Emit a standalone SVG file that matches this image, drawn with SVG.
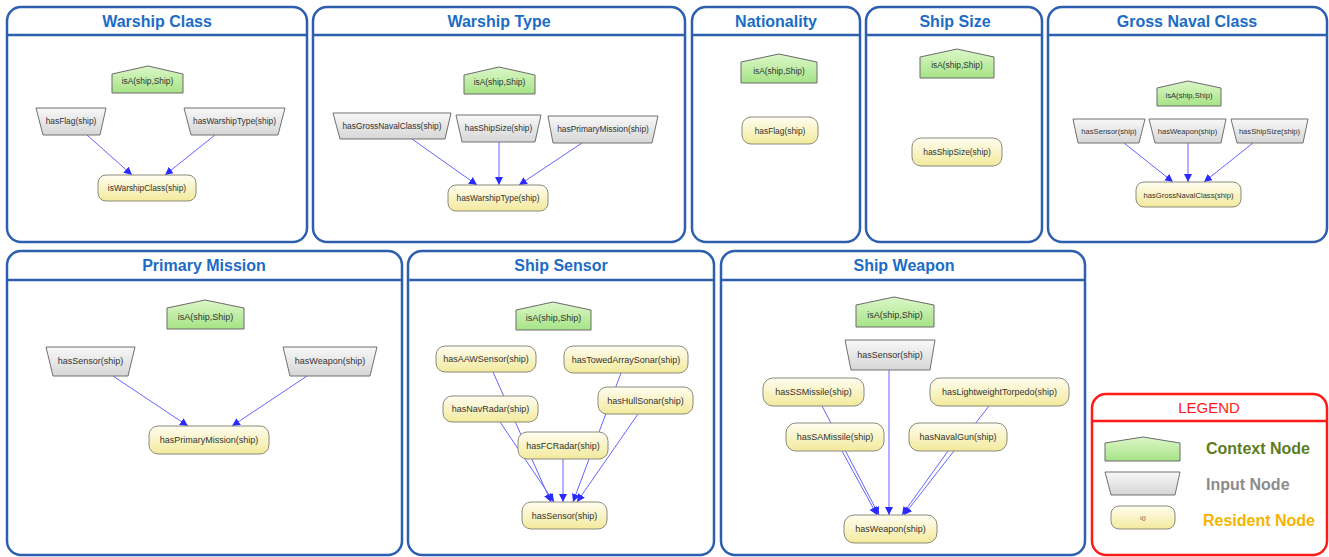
<svg xmlns="http://www.w3.org/2000/svg" width="1329" height="557" viewBox="0 0 1329 557">
<defs>
<linearGradient id="gCtx" x1="0" y1="0" x2="0" y2="1"><stop offset="0" stop-color="#dcf7c8"/><stop offset="1" stop-color="#a6e386"/></linearGradient>
<linearGradient id="gIn" x1="0" y1="0" x2="0" y2="1"><stop offset="0" stop-color="#f8f8f8"/><stop offset="1" stop-color="#d6d6d6"/></linearGradient>
<linearGradient id="gRes" x1="0" y1="0" x2="0" y2="1"><stop offset="0" stop-color="#fffdf0"/><stop offset="1" stop-color="#f3ea9c"/></linearGradient>
<marker id="arr" markerUnits="userSpaceOnUse" markerWidth="9" markerHeight="9" refX="8" refY="4" orient="auto"><path d="M0,0 L8,4 L0,8 z" fill="#2a2aff"/></marker>
<style>
.panel{fill:#fff;stroke:#2d5fae;stroke-width:2.5}
.hdr{stroke:#2d5fae;stroke-width:2.5}
.title{font-family:"Liberation Sans",Arial,sans-serif;font-weight:bold;font-size:16px;fill:#1c6cc6;text-anchor:middle}
.ctx{fill:url(#gCtx);stroke:#6a6a6a;stroke-width:1}
.inp{fill:url(#gIn);stroke:#707070;stroke-width:1}
.res{fill:url(#gRes);stroke:#8a8a7a;stroke-width:1}
.t{font-family:"Liberation Sans",Arial,sans-serif;fill:#333;text-anchor:middle;font-size:8.4px}
.t9{font-size:9px}
.e{stroke:#6464ff;stroke-width:1;fill:none;marker-end:url(#arr)}
.leg{font-family:"Liberation Sans",Arial,sans-serif;font-weight:bold;font-size:16px}
</style>
</defs>
<rect width="1329" height="557" fill="#fff"/>

<g id="panels">
<g id="panel-warship-class"><rect class="panel" x="7" y="7" width="300" height="235" rx="14"/><line class="hdr" x1="7" y1="35" x2="307" y2="35"/><text class="title" x="157" y="27">Warship Class</text></g>
<g id="panel-warship-type"><rect class="panel" x="313" y="7" width="372" height="235" rx="14"/><line class="hdr" x1="313" y1="35" x2="685" y2="35"/><text class="title" x="499" y="27">Warship Type</text></g>
<g id="panel-nationality"><rect class="panel" x="692" y="7" width="168" height="235" rx="14"/><line class="hdr" x1="692" y1="35" x2="860" y2="35"/><text class="title" x="776" y="27">Nationality</text></g>
<g id="panel-ship-size"><rect class="panel" x="866" y="7" width="176" height="235" rx="14"/><line class="hdr" x1="866" y1="35" x2="1042" y2="35"/><text class="title" x="955" y="27">Ship Size</text></g>
<g id="panel-gross-naval-class"><rect class="panel" x="1048" y="7" width="279" height="235" rx="14"/><line class="hdr" x1="1048" y1="35" x2="1327" y2="35"/><text class="title" x="1187" y="27">Gross Naval Class</text></g>
<g id="panel-primary-mission"><rect class="panel" x="7" y="251" width="395" height="304" rx="14"/><line class="hdr" x1="7" y1="280" x2="402" y2="280"/><text class="title" x="204" y="271">Primary Mission</text></g>
<g id="panel-ship-sensor"><rect class="panel" x="408" y="251" width="306" height="304" rx="14"/><line class="hdr" x1="408" y1="280" x2="714" y2="280"/><text class="title" x="561" y="271">Ship Sensor</text></g>
<g id="panel-ship-weapon"><rect class="panel" x="721" y="251" width="364" height="304" rx="14"/><line class="hdr" x1="721" y1="280" x2="1085" y2="280"/><text class="title" x="904" y="271">Ship Weapon</text></g>
</g>

<g id="connectors">
<line class="e" x1="87" y1="135" x2="132" y2="175"/>
<line class="e" x1="215" y1="135" x2="165" y2="175"/>
<line class="e" x1="412" y1="139" x2="477" y2="185"/>
<line class="e" x1="499" y1="142" x2="499" y2="185"/>
<line class="e" x1="582" y1="143" x2="519" y2="185"/>
<line class="e" x1="1124" y1="143" x2="1173" y2="182"/>
<line class="e" x1="1188" y1="143" x2="1188" y2="182"/>
<line class="e" x1="1253" y1="143" x2="1204" y2="182"/>
<line class="e" x1="113" y1="376" x2="188" y2="426"/>
<line class="e" x1="307" y1="376" x2="232" y2="426"/>
<line class="e" x1="493" y1="372" x2="551" y2="502"/>
<line class="e" x1="500" y1="422" x2="554" y2="502"/>
<line class="e" x1="563" y1="459" x2="563" y2="502"/>
<line class="e" x1="621" y1="373" x2="573" y2="502"/>
<line class="e" x1="638" y1="414" x2="577" y2="502"/>
<line class="e" x1="889" y1="370" x2="889" y2="515"/>
<line class="e" x1="822" y1="406" x2="879" y2="515"/>
<line class="e" x1="842" y1="451" x2="877" y2="515"/>
<line class="e" x1="989" y1="406" x2="904" y2="515"/>
<line class="e" x1="948" y1="451" x2="902" y2="515"/>
</g>

<!-- Warship Class -->
<g id="wc-isA"><path class="ctx" d="M112,74 L148,66 L183,74 L183,93 L112,93 Z"/><text class="t" x="147.5" y="84">isA(ship,Ship)</text></g>
<g id="wc-hasFlag"><path class="inp" d="M36,108 L106,108 L100,135 L43,135 Z"/><text class="t" x="71" y="124">hasFlag(ship)</text></g>
<g id="wc-hasWarshipType"><path class="inp" d="M184,108 L285,108 L278,135 L191,135 Z"/><text class="t" x="234.5" y="124">hasWarshipType(ship)</text></g>
<g id="wc-isWarshipClass"><rect class="res" x="98" y="175" width="98" height="26" rx="8"/><text class="t" x="147" y="191">isWarshipClass(ship)</text></g>

<!-- Warship Type -->
<g id="wt-isA"><path class="ctx" d="M464,75 L499,67 L535,75 L535,94 L464,94 Z"/><text class="t" x="499.5" y="85">isA(ship,Ship)</text></g>
<g id="wt-hasGrossNavalClass"><path class="inp" d="M333,113 L451,113 L445,139 L340,139 Z"/><text class="t" x="392" y="129">hasGrossNavalClass(ship)</text></g>
<g id="wt-hasShipSize"><path class="inp" d="M456,115 L541,115 L535,142 L462,142 Z"/><text class="t" x="498.5" y="131">hasShipSize(ship)</text></g>
<g id="wt-hasPrimaryMission"><path class="inp" d="M548,116 L658,116 L652,143 L553,143 Z"/><text class="t" x="603" y="132">hasPrimaryMission(ship)</text></g>
<g id="wt-hasWarshipType"><rect class="res" x="448" y="185" width="100" height="26" rx="8"/><text class="t" x="498" y="201">hasWarshipType(ship)</text></g>

<!-- Nationality -->
<g id="na-isA"><path class="ctx" d="M741,62 L779,54 L817,62 L817,83 L741,83 Z"/><text class="t" x="779" y="74">isA(ship,Ship)</text></g>
<g id="na-hasFlag"><rect class="res" x="742" y="117" width="76" height="27" rx="9"/><text class="t" x="780" y="133.5">hasFlag(ship)</text></g>

<!-- Ship Size -->
<g id="ss-isA"><path class="ctx" d="M920,57 L957,49 L994,57 L994,78 L920,78 Z"/><text class="t" x="957" y="68">isA(ship,Ship)</text></g>
<g id="ss-hasShipSize"><rect class="res" x="912" y="138" width="90" height="28" rx="9"/><text class="t" x="957" y="155">hasShipSize(ship)</text></g>

<!-- Gross Naval Class -->
<g id="gnc-isA"><path class="ctx" d="M1157,88 L1188,81 L1221,88 L1221,106 L1157,106 Z"/><text class="t" x="1189" y="98" style="font-size:7.6px">isA(ship,Ship)</text></g>
<g id="gnc-hasSensor"><path class="inp" d="M1073,119 L1145,119 L1139,143 L1078,143 Z"/><text class="t" x="1109" y="134" style="font-size:7.6px">hasSensor(ship)</text></g>
<g id="gnc-hasWeapon"><path class="inp" d="M1149,119 L1226,119 L1221,143 L1155,143 Z"/><text class="t" x="1187.5" y="134" style="font-size:7.6px">hasWeapon(ship)</text></g>
<g id="gnc-hasShipSize"><path class="inp" d="M1231,119 L1308,119 L1303,143 L1237,143 Z"/><text class="t" x="1269.5" y="134" style="font-size:7.6px">hasShipSize(ship)</text></g>
<g id="gnc-hasGrossNavalClass"><rect class="res" x="1136" y="182" width="105" height="25" rx="8"/><text class="t" x="1188.5" y="197.5" style="font-size:7.6px">hasGrossNavalClass(ship)</text></g>

<!-- Primary Mission -->
<g id="pm-isA"><path class="ctx" d="M167,308 L205,300 L244,308 L244,329 L167,329 Z"/><text class="t t9" x="205.5" y="320">isA(ship,Ship)</text></g>
<g id="pm-hasSensor"><path class="inp" d="M46,347 L135,347 L128,376 L53,376 Z"/><text class="t t9" x="90.5" y="364">hasSensor(ship)</text></g>
<g id="pm-hasWeapon"><path class="inp" d="M283,347 L377,347 L370,376 L290,376 Z"/><text class="t t9" x="330" y="364">hasWeapon(ship)</text></g>
<g id="pm-hasPrimaryMission"><rect class="res" x="149" y="426" width="120" height="28" rx="9"/><text class="t t9" x="209" y="443">hasPrimaryMission(ship)</text></g>

<!-- Ship Sensor -->
<g id="sen-isA"><path class="ctx" d="M516,310 L553,302 L591,310 L591,330 L516,330 Z"/><text class="t t9" x="553.5" y="321">isA(ship,Ship)</text></g>
<g id="sen-hasAAWSensor"><rect class="res" x="436" y="346" width="100" height="26" rx="9"/><text class="t t9" x="486" y="362">hasAAWSensor(ship)</text></g>
<g id="sen-hasTowedArraySonar"><rect class="res" x="564" y="346" width="124" height="27" rx="9"/><text class="t t9" x="626" y="362.5">hasTowedArraySonar(ship)</text></g>
<g id="sen-hasNavRadar"><rect class="res" x="443" y="396" width="95" height="26" rx="9"/><text class="t t9" x="490.5" y="412">hasNavRadar(ship)</text></g>
<g id="sen-hasHullSonar"><rect class="res" x="598" y="387" width="95" height="27" rx="9"/><text class="t t9" x="645.5" y="403.5">hasHullSonar(ship)</text></g>
<g id="sen-hasFCRadar"><rect class="res" x="518" y="432" width="90" height="27" rx="9"/><text class="t t9" x="563" y="448.5">hasFCRadar(ship)</text></g>
<g id="sen-hasSensor"><rect class="res" x="522" y="502" width="85" height="27" rx="9"/><text class="t t9" x="564.5" y="518.5">hasSensor(ship)</text></g>

<!-- Ship Weapon -->
<g id="wpn-isA"><path class="ctx" d="M856,305 L894,297 L934,305 L934,327 L856,327 Z"/><text class="t t9" x="895" y="318">isA(ship,Ship)</text></g>
<g id="wpn-hasSensor"><path class="inp" d="M845,340 L935,340 L930,370 L851,370 Z"/><text class="t t9" x="890" y="358">hasSensor(ship)</text></g>
<g id="wpn-hasSSMissile"><rect class="res" x="763" y="378" width="101" height="28" rx="10"/><text class="t t9" x="813.5" y="395">hasSSMissile(ship)</text></g>
<g id="wpn-hasLightweightTorpedo"><rect class="res" x="930" y="378" width="139" height="28" rx="10"/><text class="t t9" x="999.5" y="395">hasLightweightTorpedo(ship)</text></g>
<g id="wpn-hasSAMissile"><rect class="res" x="786" y="423" width="98" height="28" rx="10"/><text class="t t9" x="835" y="440">hasSAMissile(ship)</text></g>
<g id="wpn-hasNavalGun"><rect class="res" x="909" y="423" width="98" height="28" rx="10"/><text class="t t9" x="958" y="440">hasNavalGun(ship)</text></g>
<g id="wpn-hasWeapon"><rect class="res" x="844" y="515" width="93" height="28" rx="10"/><text class="t t9" x="890.5" y="532">hasWeapon(ship)</text></g>

<!-- Legend -->
<g id="legend">
<rect x="1092" y="394" width="235" height="161" rx="14" fill="#fff" stroke="#ff1a1a" stroke-width="2.5"/>
<line x1="1092" y1="421" x2="1327" y2="421" stroke="#ff1a1a" stroke-width="2.5"/>
<text x="1209" y="413" text-anchor="middle" style="font-family:'Liberation Sans',Arial,sans-serif;font-size:15px;fill:#ff1a1a">LEGEND</text>
<path class="ctx" d="M1105,443 L1143,437 L1180,443 L1180,461 L1105,461 Z"/>
<text class="leg" x="1206" y="454" fill="#5e7c1e">Context Node</text>
<path class="inp" d="M1105,472 L1180,472 L1175,495 L1111,495 Z"/>
<text class="leg" x="1206" y="490" fill="#8c8c8c">Input Node</text>
<rect class="res" x="1111" y="506" width="64" height="23" rx="8"/>
<text class="t" x="1143" y="520" style="font-size:6px">i()</text>
<text class="leg" x="1203" y="526" fill="#f5b400">Resident Node</text>
</g>
</svg>
